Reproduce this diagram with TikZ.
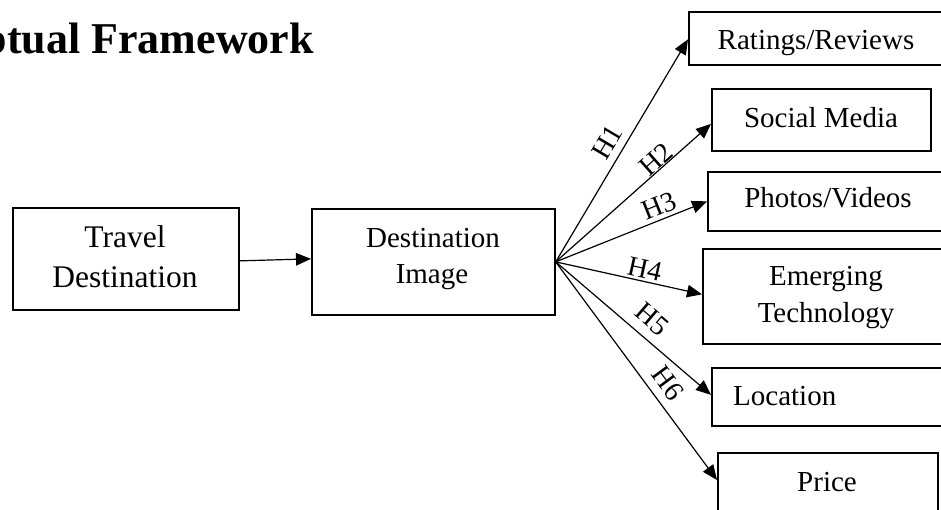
\documentclass[tikz,border=0pt]{standalone}
\usepackage{fontspec}
\setmainfont{Liberation Serif}
\usetikzlibrary{arrows.meta}
\begin{document}
\begin{tikzpicture}[x=1pt,y=-1pt,
  box/.style={draw, line width=1.7pt, inner sep=0pt, anchor=north west},
  lbl/.style={font=\fontsize{29}{34}\selectfont, inner sep=0pt, anchor=base},
  biglbl/.style={font=\fontsize{31.5}{36}\selectfont, inner sep=0pt, anchor=base},
  conn/.style={line width=1.2pt, -{Triangle[length=15pt,width=12.5pt]}},
  hyp/.style={font=\fontsize{28}{32}\selectfont, inner sep=0pt, sloped}]
\useasboundingbox (0,0) rectangle (941,509);
\clip (0,0) rectangle (941,509);
% title (cut at the left edge)
\node[font=\fontsize{44}{50}\selectfont\bfseries, inner sep=0pt, anchor=base east] (title) at (314,53) {ptual Framework};
% boxes
\node[box, minimum width=226pt, minimum height=102pt] (td) at (12,207) {};
\node[box, minimum width=243pt, minimum height=106pt] (di) at (311,208) {};
\node[box, minimum width=260pt, minimum height=53pt] (rr) at (688,11) {};
\node[box, minimum width=219pt, minimum height=62pt] (sm) at (711,88) {};
\node[box, minimum width=245pt, minimum height=59pt] (pv) at (707,171) {};
\node[box, minimum width=250pt, minimum height=95pt] (et) at (702,248) {};
\node[box, minimum width=250pt, minimum height=58pt] (loc) at (711,367) {};
\node[box, minimum width=220pt, minimum height=70pt] (pr) at (717,452) {};
% texts
\node[biglbl] (tdt1) at (125,247) {Travel};
\node[biglbl] (tdt2) at (125,287) {Destination};
\node[lbl] (dit1) at (433,247) {Destination};
\node[lbl] (dit2) at (432,283) {Image};
\node[lbl] (rrt) at (816,49) {Ratings/Reviews};
\node[lbl] (smt) at (821,127) {Social Media};
\node[lbl] (pvt) at (828,207) {Photos/Videos};
\node[lbl] (ett1) at (826,285) {Emerging};
\node[lbl] (ett2) at (826,322) {Technology};
\node[lbl, anchor=base west] (loct) at (733,405) {Location};
\node[lbl] (prt) at (827,491) {Price};
% connectors
\coordinate (o) at (di.east);
\draw[conn] ([yshift=-2pt]td.east) -- ([yshift=3pt]di.west);
\draw[conn] (o) -- node[hyp, pos=0.50, above=7pt] (h1) {H1} ([yshift=-1pt]rr.west);
\draw[conn] (o) -- node[hyp, pos=0.69, above=0pt] (h2) {H2} ([yshift=-4pt]sm.west);
\draw[conn] (o) -- node[hyp, pos=0.715, above=3.7pt] (h3) {H3} (pv.west);
\draw[conn] (o) -- node[hyp, pos=0.59, above=2.6pt] (h4) {H4} ([yshift=2pt]et.west);
\draw[conn] (o) -- node[hyp, pos=0.54, above=9.2pt] (h5) {H5} ([yshift=2pt]loc.west);
\draw[conn] (o) -- node[hyp, pos=0.605, above=8pt] (h6) {H6} ([yshift=-28pt]pr.north west);
\end{tikzpicture}
\end{document}
